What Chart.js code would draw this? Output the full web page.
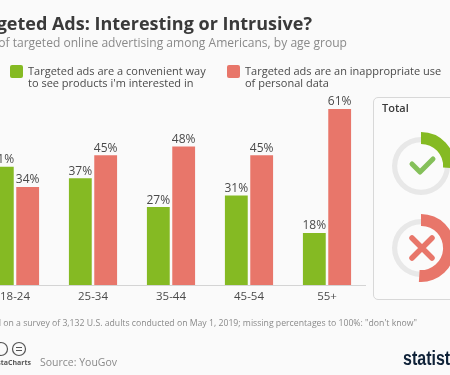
<!DOCTYPE html>
<html>
<head>
<meta charset="utf-8">
<script src="https://cdn.jsdelivr.net/npm/chart.js@4"></script>
<style>
    html, body { margin: 0; padding: 0; background: #fafafa; }
    #page { position: relative; width: 450px; height: 375px; overflow: hidden; background: #fafafa; font-family: "Open Sans", sans-serif; }
    #page div, #page svg, #page canvas { position: absolute; }
    .line { white-space: nowrap; }
    #title { right: 138px; top: 11px; font-size: 18px; font-weight: 700; color: #3a3a3a; }
    #subtitle { right: 103px; top: 34px; font-size: 12.05px; color: #8a8a8a; }
    .legend { font-size: 11px; line-height: 12px; color: #4a4a4a; }
    .swatch { width: 13px; height: 13px; border-radius: 2px; top: 65px; }
    #panel { left: 373px; top: 97px; width: 100px; height: 201px; border: 1px solid #d8d8d8; border-radius: 5px; background: #fbfbfb; }
    #total { left: 382px; top: 100px; font-size: 11px; font-weight: 600; color: #3a3a3a; }
    #note { right: 33px; top: 317px; font-size: 8.7px; color: #8a8a8a; }
    #source { left: 40px; top: 355px; font-size: 10.5px; color: #8a8a8a; }
    #credit { right: 419px; top: 358px; font-size: 7px; font-weight: 700; color: #555; }
    #logo { left: 403px; top: 347px; font-family: "Liberation Sans", sans-serif; font-size: 20px; font-weight: 700; color: #0f2238; transform: scaleX(.8); transform-origin: left top; }
</style>
</head>
<body>
<div id="page">
    <div id="panel"></div>
    <canvas id="bars" width="390" height="375" style="left:-24px;top:0"></canvas>

    <div id="title" class="line">Targeted Ads: Interesting or Intrusive?</div>
    <div id="subtitle" class="line">Survey of targeted online advertising among Americans, by age group</div>

    <div class="swatch" style="left:10px;background:#85ba23"></div>
    <div class="legend line" style="left:28px;top:65px">Targeted ads are a convenient way<br>to see products i'm interested in</div>
    <div class="swatch" style="left:227px;background:#e8766a"></div>
    <div class="legend line" style="left:245px;top:65px">Targeted ads are an inappropriate use<br>of personal data</div>

    <div id="total">Total</div>
    <canvas id="ringGood" width="80" height="80" style="left:381px;top:126px"></canvas>
    <canvas id="arcGood" width="80" height="80" style="left:381px;top:126px"></canvas>
    <canvas id="ringBad" width="80" height="80" style="left:381px;top:208px"></canvas>
    <canvas id="arcBad" width="80" height="80" style="left:381px;top:208px"></canvas>

    <svg width="80" height="80" style="left:381px;top:126px" fill="none" stroke="#85c05a" stroke-width="5" stroke-linecap="round" stroke-linejoin="round">
        <path d="M31 38 L39 46 L52 33"/>
    </svg>
    <svg width="80" height="80" style="left:381px;top:208px" fill="none" stroke="#e8766a" stroke-width="5.5" stroke-linecap="round">
        <path d="M31 30 L51 50 M51 30 L31 50"/>
    </svg>

    <div id="note" class="line">Based on a survey of 3,132 U.S. adults conducted on May 1, 2019; missing percentages to 100%: "don't know"</div>

    <svg width="40" height="20" style="left:0;top:340px" fill="none" stroke="#555" stroke-width="1.2">
        <circle cx="1" cy="9" r="6.5"/>
        <circle cx="19" cy="9" r="6.5"/>
        <path d="M16 7.5 H22 M16 10.5 H22"/>
    </svg>
    <div id="credit" class="line">@StatistaCharts</div>
    <div id="source" class="line">Source: YouGov</div>
    <div id="logo" class="line">statista</div>
</div>

<script>
const ageGroups = ['18-24', '25-34', '35-44', '45-54', '55+'];
const convenient = [41, 37, 27, 31, 18];
const intrusive = [34, 45, 48, 45, 61];
const totalConvenient = 26;
const totalIntrusive = 51;

const green = '#85ba23';
const red = '#e8766a';

// подписи над столбцами
const barLabels = {
    id: 'barLabels',
    afterDatasetsDraw(chart) {
        const c = chart.ctx;
        c.save();
        c.font = '12px "Open Sans"';
        c.fillStyle = '#4a4a4a';
        c.textAlign = 'center';
        c.textBaseline = 'bottom';
        chart.data.datasets.forEach((ds, i) => {
            chart.getDatasetMeta(i).data.forEach((bar, j) => {
                c.fillText(ds.data[j] + '%', bar.x, bar.y - 1);
            });
        });
        c.restore();
    }
};

new Chart(document.getElementById('bars'), {
    type: 'bar',
    data: {
        labels: ageGroups,
        datasets: [
            { label: 'Targeted ads are a convenient way to see products i\'m interested in', data: convenient, backgroundColor: green },
            { label: 'Targeted ads are an inappropriate use of personal data', data: intrusive, backgroundColor: red }
        ]
    },
    options: {
        responsive: false,
        animation: false,
        categoryPercentage: 0.65,
        barPercentage: 0.9,
        layout: { padding: { top: 83, bottom: 60 } },
        plugins: { legend: { display: false }, tooltip: { enabled: false } },
        scales: {
            x: {
                afterFit: (scale) => { scale.height = 30; },
                grid: { display: false },
                border: { color: '#d4d4d4', width: 1 },
                ticks: { color: '#4a4a4a', font: { family: 'Open Sans', size: 11.5 }, padding: -3 }
            },
            y: { display: false, min: 0, max: 70 }
        }
    },
    plugins: [barLabels]
});

const donut = (id, value, color, radius, cutout) => {
    new Chart(document.getElementById(id), {
        type: 'doughnut',
        data: { datasets: [{ data: [value, 100 - value], backgroundColor: [color, 'transparent'], borderWidth: 0 }] },
        options: {
            responsive: false,
            animation: false,
            radius: radius,
            cutout: cutout,
            plugins: { legend: { display: false }, tooltip: { enabled: false } }
        }
    });
};

// cutout в процентах от внешнего радиуса
donut('ringGood', 100, '#e8e8e8', 29, '82%');
donut('arcGood', totalConvenient, green, 34, '65%');
donut('ringBad', 100, '#e8e8e8', 29, '82%');
donut('arcBad', totalIntrusive, red, 34, '65%');
</script>
</body>
</html>
